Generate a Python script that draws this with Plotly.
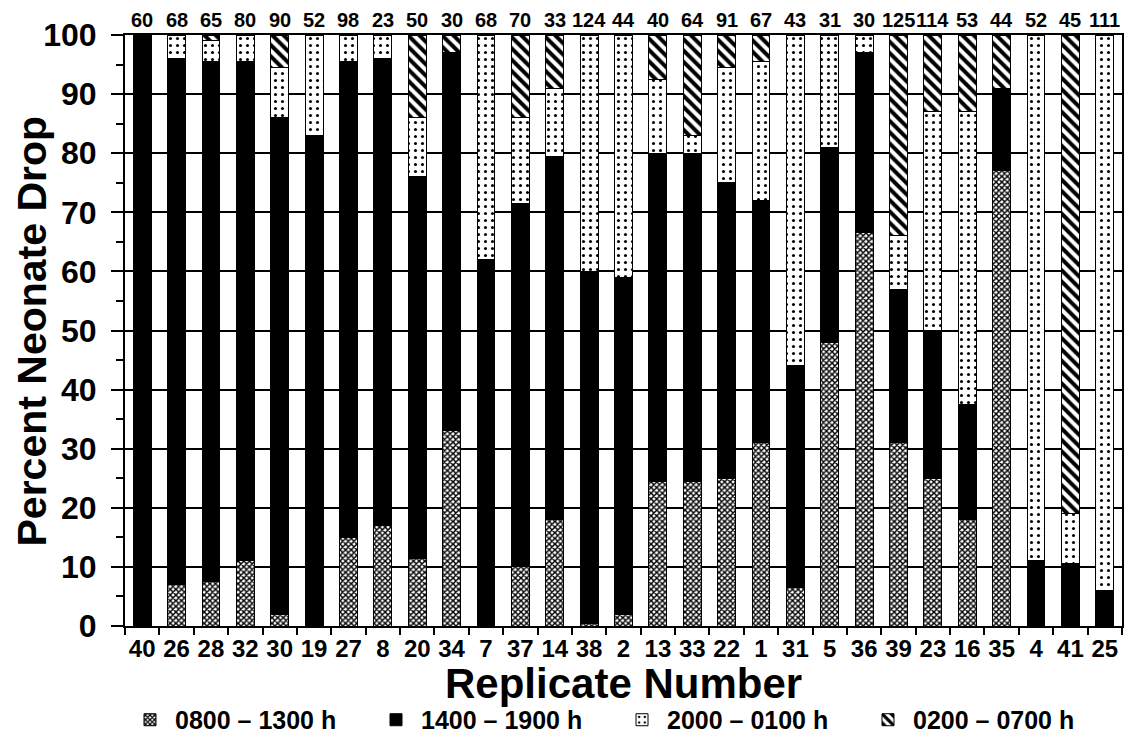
import plotly.graph_objects as go

replicates = ["40", "26", "28", "32", "30", "19", "27", "8", "20", "34", "7", "37", "14", "38",
              "2", "13", "33", "22", "1", "31", "5", "36", "39", "23", "16", "35", "4", "41", "25"]
sample_n = [60, 68, 65, 80, 90, 52, 98, 23, 50, 30, 68, 70, 33, 124,
            44, 40, 64, 91, 67, 43, 31, 30, 125, 114, 53, 44, 52, 45, 111]

# percent of neonates dropped in each time window
pct_0800_1300 = [0, 7, 7.5, 11, 2, 0, 15, 17, 11.5, 33, 0, 10, 18, 0.5,
                 2, 24.5, 24.5, 25, 31, 6.5, 48, 66.5, 31, 25, 18, 77, 0, 0, 0]
pct_1400_1900 = [100, 89, 88, 84.5, 84, 83, 80.5, 79, 64.5, 64, 62, 61.5, 61.5, 59.5,
                 57, 55.5, 55.5, 50, 41, 37.5, 33, 30.5, 26, 25, 19.5, 14, 11, 10.5, 6]
pct_2000_0100 = [0, 4, 3.5, 4.5, 8.5, 17, 4.5, 4, 10, 0, 38, 14.5, 11.5, 40,
                 41, 12.5, 3, 19.5, 23.5, 56, 19, 3, 9, 37, 49.5, 0, 89, 8.5, 94]
pct_0200_0700 = [0, 0, 1, 0, 5.5, 0, 0, 0, 14, 3, 0, 14, 9, 0,
                 0, 7.5, 17, 5.5, 4.5, 0, 0, 0, 34, 13, 13, 9, 0, 81, 0]

series = [
    ("0800 \u2013 1300 h", pct_0800_1300,
     dict(color="white", pattern=dict(shape="x", size=4, solidity=0.6, fgcolor="black", bgcolor="white", fillmode="replace"))),
    ("1400 \u2013 1900 h", pct_1400_1900, dict(color="black")),
    ("2000 \u2013 0100 h", pct_2000_0100,
     dict(color="white", pattern=dict(shape=".", size=7, solidity=0.15, fgcolor="black", bgcolor="white", fillmode="replace"))),
    ("0200 \u2013 0700 h", pct_0200_0700,
     dict(color="white", pattern=dict(shape="\\", size=8, solidity=0.5, fgcolor="black", bgcolor="white", fillmode="replace"))),
]

FONT = "Liberation Sans, Arial, Helvetica, sans-serif"

fig = go.Figure()
for name, vals, marker in series:
    marker = dict(marker)
    marker["line"] = dict(color="black", width=1)
    fig.add_trace(go.Bar(x=replicates, y=vals, name=f"<b>{name}</b>", marker=marker, width=0.52))

for i, n in enumerate(sample_n):
    fig.add_annotation(x=i, y=1, xref="x", yref="paper", text=f"<b>{n}</b>",
                       showarrow=False, yanchor="bottom", yshift=3, borderpad=0,
                       font=dict(family=FONT, size=20, color="black"))

# axis titles
fig.add_annotation(x=0.5, y=-0.098, xref="paper", yref="paper", yanchor="middle",
                   text="<b>Replicate Number</b>", showarrow=False,
                   font=dict(family=FONT, size=42, color="black"))
fig.add_annotation(x=-0.0933, y=0.5, xref="paper", yref="paper", xanchor="center",
                   text="<b>Percent Neonate Drop</b>", showarrow=False, textangle=-90,
                   borderpad=0, font=dict(family=FONT, size=41, color="black"))

fig.update_layout(
    width=1126, height=742,
    barmode="stack",
    plot_bgcolor="white", paper_bgcolor="white",
    margin=dict(l=117, r=12, t=27, b=124, autoexpand=False),
    font=dict(family=FONT, color="black"),
    showlegend=True,
    legend=dict(orientation="h", x=0.0, xanchor="left", y=-0.159, yanchor="middle",
                font=dict(family=FONT, size=25, color="black"), traceorder="normal",
                itemwidth=40, entrywidth=191, bgcolor="rgba(0,0,0,0)"),
    xaxis=dict(
        type="category", tickson="boundaries", ticks="outside", ticklen=7, tickwidth=2,
        tickcolor="black", showline=True, linecolor="black", linewidth=2, mirror=True,
        showgrid=False, range=[-0.5, 28.5], tickangle=0, automargin=False,
        tickfont=dict(family=FONT, size=24, color="black"),
        tickprefix="<b>", ticksuffix="</b>",
    ),
    yaxis=dict(
        range=[0, 100], dtick=10, ticks="outside", ticklen=12, tickwidth=2, tickcolor="black",
        showline=True, linecolor="black", linewidth=2, mirror=True, automargin=False,
        showgrid=True, gridcolor="black", gridwidth=2, ticklabelstandoff=8,
        minor=dict(dtick=5, ticks="outside", ticklen=7, tickwidth=2, tickcolor="black", showgrid=False),
        tickfont=dict(family=FONT, size=32, color="black"),
        tickprefix="<b>", ticksuffix="</b>",
    ),
)

fig.write_html("out.html")
